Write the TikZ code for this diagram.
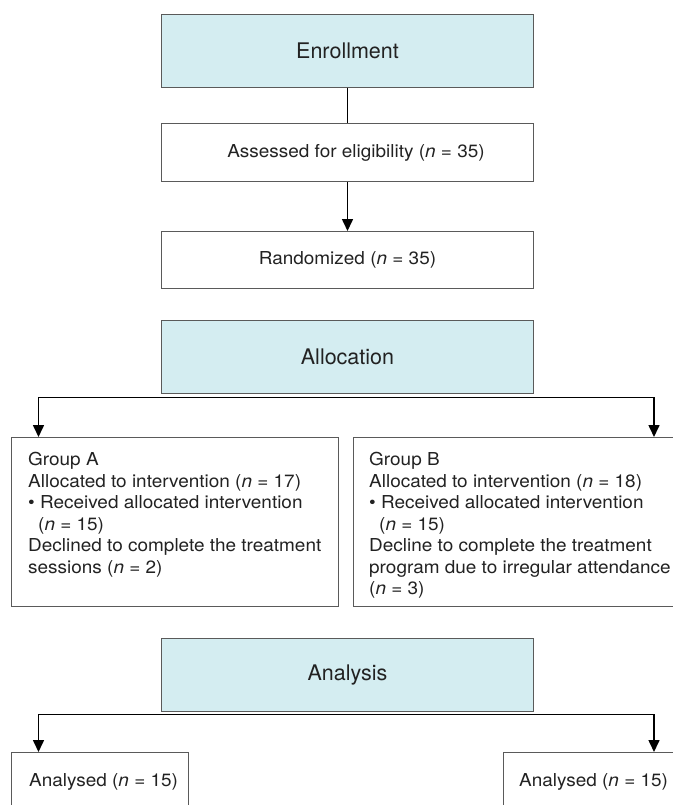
\documentclass[tikz,border=0pt]{standalone}
\usepackage{fontspec}
\setmainfont{TeX Gyre Heros}
\newfontfamily\bodyfont{TeX Gyre Heros}[FakeStretch=1.065]
\usetikzlibrary{arrows.meta}
\definecolor{hdrfill}{HTML}{D4EDF1}
\definecolor{edge}{HTML}{5A5A5A}
\definecolor{ink}{HTML}{222222}
\begin{document}
\begin{tikzpicture}[x=1pt,y=-1pt,
  box/.style={draw=edge, line width=1pt, fill=white, inner sep=0pt, anchor=north west, text=ink},
  hdr/.style={box, fill=hdrfill, font=\fontsize{21.5}{25}\selectfont},
  body/.style={font=\bodyfont\fontsize{17.8}{21.5}\selectfont, text=ink},
  txt/.style={body, inner sep=0pt, align=left},
  ln/.style={line width=1.6pt, draw=black},
  arr/.style={ln, -{Triangle[width=11pt,length=12pt]}}]
\useasboundingbox (0,0) rectangle (672,805);

% boxes
\node[hdr, minimum width=372pt, minimum height=73pt] (enr) at (161,14) {Enrollment};
\node[box, body, minimum width=372pt, minimum height=58pt] (ass) at (161,123) {\hspace*{17pt}Assessed for eligibility (\textit{n} = 35)};
\node[box, body, minimum width=372pt, minimum height=57pt] (ran) at (161,231) {Randomized (\textit{n} = 35)};
\node[hdr, minimum width=372pt, minimum height=73pt] (all) at (161,320) {Allocation};

\node[box, minimum width=327pt, minimum height=169pt] (gA) at (11,437) {};
\node[box, minimum width=335pt, minimum height=169pt] (gB) at (353,437) {};
\node[txt, anchor=north west] (gAt) at (28,452) {Group A\\
Allocated to intervention (\textit{n} = 17)\\
• Received allocated intervention\\
\hspace*{10pt}(\textit{n} = 15)\\
Declined to complete the treatment\\
sessions (\textit{n} = 2)};
\node[txt, anchor=north west] (gBt) at (369,452) {Group B\\
Allocated to intervention (\textit{n} = 18)\\
• Received allocated intervention\\
\hspace*{10pt}(\textit{n} = 15)\\
Decline to complete the treatment\\
program due to irregular attendance\\
(\textit{n} = 3)};

\node[hdr, minimum width=372pt, minimum height=73pt] (ana) at (161,638) {Analysis};
\node[box, minimum width=177pt, minimum height=80pt] (aL) at (11,752) {};
\node[box, minimum width=190pt, minimum height=80pt] (aR) at (503,752) {};
\node[body, anchor=west, inner sep=0pt] (aLt) at (29,782) {Analysed (\textit{n} = 15)};
\node[body, anchor=west, inner sep=0pt] (aRt) at (519,782) {Analysed (\textit{n} = 15)};

% connectors
\draw[ln] (enr.south) -- (ass.north);
\draw[arr] (ass.south) -- (ran.north);

\coordinate (b1L) at (38.5,397.5);
\coordinate (b1R) at (654,397.5);
\draw[arr] (b1R) -- (b1L) -- (b1L |- gA.north);
\draw[arr] (b1L) -- (b1R) -- (b1R |- gB.north);

\coordinate (b2L) at (38.5,714.5);
\coordinate (b2R) at (654,714.5);
\draw[arr] (b2R) -- (b2L) -- (b2L |- aL.north);
\draw[arr] (b2L) -- (b2R) -- (b2R |- aR.north);
\end{tikzpicture}
\end{document}
